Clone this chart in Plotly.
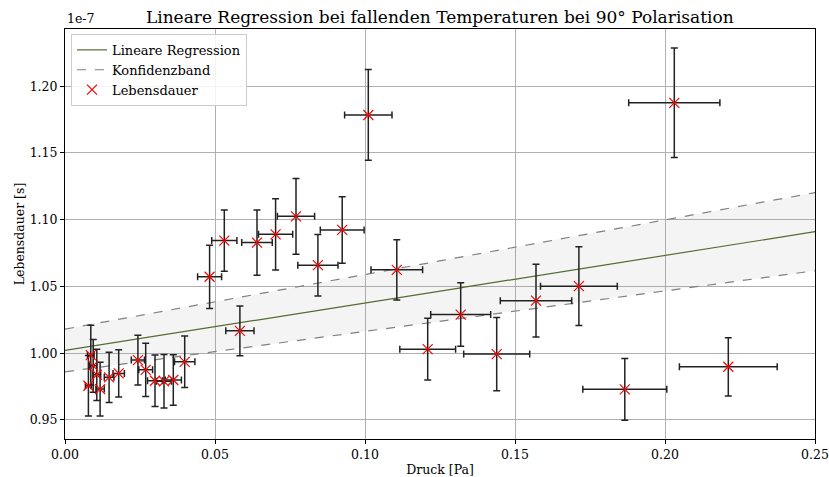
import numpy as np
import plotly.graph_objects as go

# Messwerte: Druck [Pa] und Lebensdauer [1e-7 s] mit Unsicherheiten
druck = [0.0078, 0.0086, 0.0094, 0.0106, 0.0117, 0.0147, 0.0179, 0.0243, 0.0269,
         0.0300, 0.0330, 0.0361, 0.0399, 0.0482, 0.0531, 0.0583, 0.0640, 0.0702,
         0.0770, 0.0843, 0.0924, 0.1011, 0.1106, 0.1209, 0.1319, 0.1439, 0.1570,
         0.1713, 0.1866, 0.2031, 0.2211]
druck_err = [0.0010, 0.0011, 0.0012, 0.0013, 0.0014, 0.0016, 0.0019, 0.0022, 0.0023,
             0.0025, 0.0025, 0.0027, 0.0034, 0.0040, 0.0042, 0.0047, 0.0051, 0.0057,
             0.0062, 0.0067, 0.0073, 0.0079, 0.0086, 0.0093, 0.0100, 0.0110, 0.0119,
             0.0128, 0.0140, 0.0152, 0.0163]
tau = [0.9756, 0.9985, 0.9905, 0.9838, 0.9731, 0.9819, 0.9848, 0.9948, 0.9875,
       0.9793, 0.9789, 0.9799, 0.9935, 1.0572, 1.0843, 1.0167, 1.0828, 1.0890,
       1.1025, 1.0659, 1.0923, 1.1784, 1.0624, 1.0030, 1.0289, 0.9993, 1.0393,
       1.0502, 0.9729, 1.1875, 0.9898]
tau_err = [0.0226, 0.0224, 0.0197, 0.0192, 0.0201, 0.0188, 0.0177, 0.0187, 0.0200,
           0.0193, 0.0200, 0.0189, 0.0193, 0.0237, 0.0229, 0.0187, 0.0245, 0.0267,
           0.0284, 0.0230, 0.0249, 0.0340, 0.0225, 0.0231, 0.0238, 0.0274, 0.0272,
           0.0295, 0.0231, 0.0410, 0.0218]

# Fitparameter tau = m * p + b (in 1e-7 s) und deren Fehler
m, m_err = 0.356, 0.053
b, b_err = 1.0020, 0.0160

x_fit = np.linspace(0.0, 0.25, 200)
y_fit = m * x_fit + b
y_up = (m + m_err) * x_fit + (b + b_err)
y_lo = (m - m_err) * x_fit + (b - b_err)

FONT = "DejaVu Serif"

fig = go.Figure()

fig.add_trace(go.Scatter(
    x=x_fit, y=y_lo, mode="lines", name="Konfidenzband",
    line=dict(color="#808080", width=1.2, dash="dash"),
    legendrank=2,
))
fig.add_trace(go.Scatter(
    x=x_fit, y=y_up, mode="lines", showlegend=False,
    line=dict(color="#808080", width=1.2, dash="dash"),
    fill="tonexty", fillcolor="rgba(128,128,128,0.09)",
))
fig.add_trace(go.Scatter(
    x=x_fit, y=y_fit, mode="lines", name="Lineare Regression",
    line=dict(color="#556b2f", width=1.2),
    legendrank=1,
))
fig.add_trace(go.Scatter(
    x=druck, y=tau, mode="markers", name="Lebensdauer",
    marker=dict(symbol="x-thin-open", size=10, color="red",
                line=dict(color="red", width=1.2)),
    error_x=dict(type="data", array=druck_err, color="#222222", thickness=1.5, width=3.5),
    error_y=dict(type="data", array=tau_err, color="#222222", thickness=1.5, width=3.5),
    legendrank=3,
))

axis_common = dict(
    showline=True, linecolor="black", linewidth=1, mirror=True,
    ticks="outside", ticklen=4, tickcolor="black",
    showgrid=True, gridcolor="#b0b0b0", gridwidth=1,
    zeroline=False, automargin=False,
    tickfont=dict(family=FONT, size=12.5, color="black"),
)

fig.update_layout(
    width=829, height=477,
    margin=dict(l=65, r=14, t=29, b=38),
    plot_bgcolor="white", paper_bgcolor="white",
    font=dict(family=FONT, color="black"),
    title=dict(text="Lineare Regression bei fallenden Temperaturen bei 90° Polarisation",
               x=0.5305, xanchor="center", y=0.964, yanchor="middle",
               font=dict(family=FONT, size=17, color="black")),
    xaxis=dict(range=[0, 0.25], dtick=0.05, tickformat=".2f",
               title=dict(text="Druck [Pa]", font=dict(family=FONT, size=12.5), standoff=4),
               **axis_common),
    yaxis=dict(range=[0.9357, 1.2428], tick0=0.95, dtick=0.05, tickformat=".2f",
               title=dict(text="Lebensdauer [s]", font=dict(family=FONT, size=12.5), standoff=2),
               **axis_common),
    legend=dict(x=0.008, y=0.988, xanchor="left", yanchor="top",
                traceorder="normal",
                bgcolor="rgba(255,255,255,0.85)", bordercolor="#cccccc", borderwidth=1,
                font=dict(family=FONT, size=13), tracegroupgap=0,
                itemwidth=30),
    showlegend=True,
)

fig.add_annotation(text="1e-7", xref="paper", yref="paper", x=0, y=1.0,
                   xanchor="left", yanchor="bottom", yshift=1, showarrow=False,
                   font=dict(family=FONT, size=12.5, color="black"))

fig.write_html("out.html")
